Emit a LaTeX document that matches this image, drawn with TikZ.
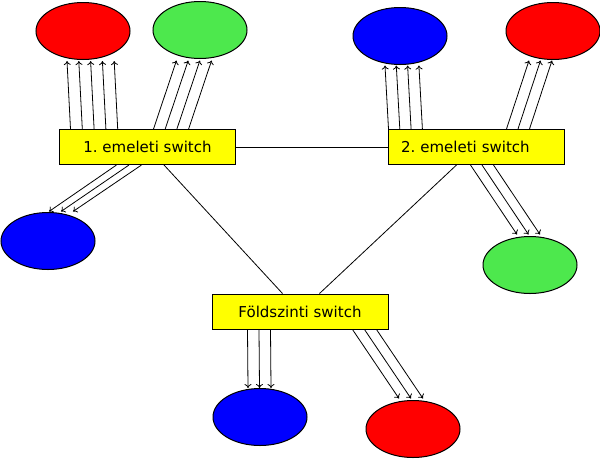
\documentclass[tikz,border=0pt]{standalone}
\usepackage{fontspec}
\setmainfont{DejaVu Sans}
\usetikzlibrary{calc, positioning, shapes.geometric}
\usetikzlibrary{arrows.meta}
\definecolor{hostred}{HTML}{FF0000}
\definecolor{hostgreen}{HTML}{4DE84D}
\definecolor{hostblue}{HTML}{0000FF}
\definecolor{switchyellow}{HTML}{FFFF00}

\tikzset{
  switchbox/.style={draw, line width=1pt, fill=switchyellow, minimum width=176pt, minimum height=35pt, inner sep=0pt, font=\fontsize{15}{18}\selectfont\frenchspacing},
  host/.style={draw, line width=1pt, ellipse, minimum width=94pt, minimum height=57pt, inner sep=0pt},
  link/.style={line width=0.8pt},
  flow/.style={line width=0.8pt, -{To[length=4pt, width=7pt]}},
}

\begin{document}
\begin{tikzpicture}[x=1pt, y=-1pt]
\useasboundingbox (0,0) rectangle (600,459);

% switches
\node[switchbox] (sw1) at (147.5,147) {1. emeleti switch};
\node[switchbox, text width=150pt, align=left, inner xsep=13pt] (sw2) at (476,147) {2. emeleti switch};
\node[switchbox] (sw0) at (300,311.5) {Földszinti switch};

% hosts
\node[host, fill=hostred] (r1) at (83,31) {};
\node[host, fill=hostgreen] (g1) at (200,30) {};
\node[host, fill=hostblue] (b1) at (48,241) {};
\node[host, fill=hostblue] (b2) at (400,36) {};
\node[host, fill=hostred] (r2) at (553,31) {};
\node[host, fill=hostgreen] (g2) at (530,265) {};
\node[host, fill=hostblue] (b0) at (260,417) {};
\node[host, fill=hostred] (r0) at (413,429) {};

% uplinks between switches
\draw[link] (sw1) -- (sw2);
\draw[link] ($(sw1.south west)+(105,0)$) -- ($(sw0.north west)+(71,0)$);
\draw[link] ($(sw2.south west)+(69,0)$) -- ($(sw0.north west)+(108,0)$);

% cables to the hosts
\foreach \i in {0,...,4}{
  \draw[flow] ($(sw1.north west)+(11.5+11.8*\i,0)$) -- ($(r1.south)+(-16+11.8*\i,1)$);
}
\foreach \i in {0,...,3}{
  \draw[flow] ($(sw1.north west)+(94.5+11.7*\i,0)$) -- ($(g1.south)+(-23.5+11.7*\i,1.5)$);
  \draw[flow] ($(sw2.north west)+(1+11.3*\i,0)$) -- ($(b2.south)+(-15+11.3*\i,0.5)$);
}
\foreach \i in {0,...,2}{
  \draw[flow] ($(sw2.north west)+(119+11.5*\i,0)$) -- ($(r2.south)+(-24+11.5*\i,0.5)$);
  \draw[flow] ($(sw1.south west)+(57.5+12.5*\i,0)$) -- ($(b1.north)+(1+12*\i,-0.5)$);
  \draw[flow] ($(sw2.south west)+(83+11.5*\i,0)$) -- ($(g2.north)+(-13+11.5*\i,-1.5)$);
  \draw[flow] ($(sw0.south west)+(36+11.5*\i,0)$) -- ($(b0.north)+(-12+11.5*\i,0)$);
  \draw[flow] ($(sw0.south west)+(141+12*\i,0)$) -- ($(r0.north)+(-14+12*\i,-1.5)$);
}
\end{tikzpicture}
\end{document}
